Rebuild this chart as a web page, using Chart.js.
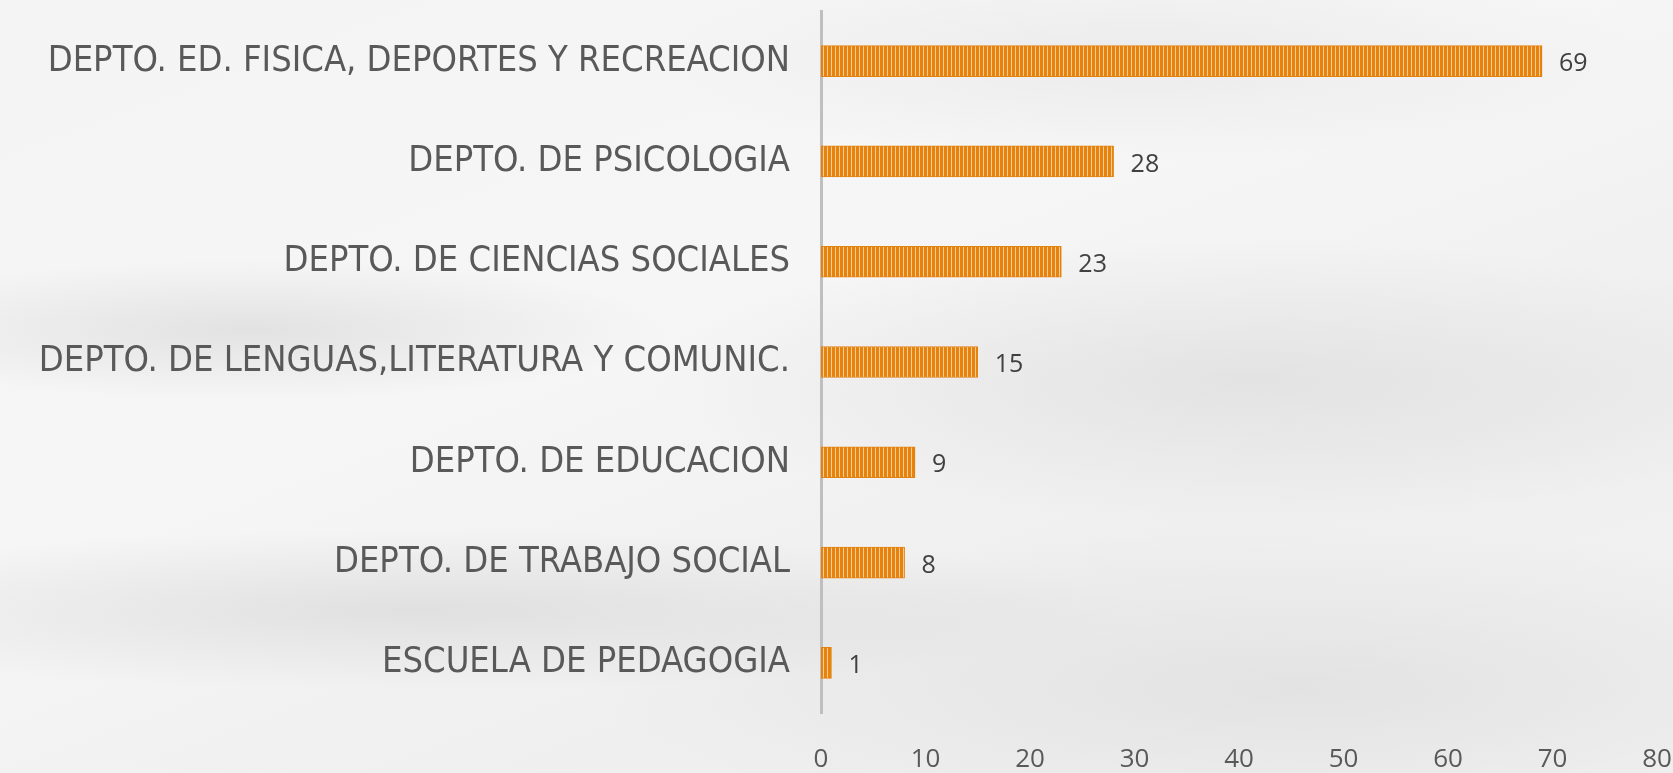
<!DOCTYPE html>
<html lang="es">
<head>
    <meta charset="UTF-8">
    <title>Departamentos</title>
    <script src="https://cdn.jsdelivr.net/npm/chart.js"></script>
    <style>
        html, body {
            margin: 0;
            padding: 0;
            width: 1673px;
            height: 773px;
            overflow: hidden;
        }
        body {
            background:
                radial-gradient(ellipse 420px 70px at 250px 330px, rgba(190,190,190,0.35), rgba(190,190,190,0)),
                radial-gradient(ellipse 700px 80px at 420px 610px, rgba(190,190,190,0.35), rgba(190,190,190,0)),
                radial-gradient(ellipse 600px 140px at 1250px 380px, rgba(205,205,205,0.4), rgba(205,205,205,0)),
                radial-gradient(ellipse 700px 160px at 1300px 690px, rgba(210,210,210,0.45), rgba(210,210,210,0)),
                radial-gradient(ellipse 500px 100px at 1150px 60px, rgba(215,215,215,0.35), rgba(215,215,215,0)),
                linear-gradient(160deg, #f4f4f4 0%, #f6f6f6 40%, #efefef 70%, #f2f2f2 100%);
        }
        #wrap {
            position: absolute;
            left: 0;
            top: 0;
            width: 1673px;
            height: 773px;
        }
    </style>
</head>
<body>
    <div id="wrap"><canvas id="deptChart"></canvas></div>

    <script>
        const categories = [
            'DEPTO. ED. FISICA, DEPORTES Y RECREACION',
            'DEPTO. DE PSICOLOGIA',
            'DEPTO. DE CIENCIAS SOCIALES',
            'DEPTO. DE LENGUAS,LITERATURA Y COMUNIC.',
            'DEPTO. DE EDUCACION',
            'DEPTO. DE TRABAJO SOCIAL',
            'ESCUELA DE PEDAGOGIA'
        ];
        const counts = [69, 28, 23, 15, 9, 8, 1];
        const xTicks = [0, 10, 20, 30, 40, 50, 60, 70, 80];

        // striped orange fill, like the original
        function stripes() {
            const c = document.createElement('canvas');
            c.width = 4;
            c.height = 4;
            const g = c.getContext('2d');
            g.fillStyle = '#e6830c';
            g.fillRect(0, 0, 4, 4);
            g.fillStyle = '#f7cc98';
            g.fillRect(3, 0, 1, 4);
            return g.createPattern(c, 'repeat');
        }

        const valueLabels = {
            id: 'valueLabels',
            afterDatasetsDraw(chart) {
                const ctx = chart.ctx;
                const meta = chart.getDatasetMeta(0);
                ctx.save();
                ctx.font = '25px "Open Sans", sans-serif';
                ctx.fillStyle = '#404040';
                ctx.textAlign = 'left';
                ctx.textBaseline = 'middle';
                meta.data.forEach((bar, i) => {
                    ctx.fillText(String(counts[i]), bar.x + 17, bar.y + 3);
                });
                ctx.restore();
            }
        };

        const ctx = document.getElementById('deptChart').getContext('2d');
        new Chart(ctx, {
            type: 'bar',
            data: {
                labels: categories,
                datasets: [{
                    data: counts,
                    backgroundColor: stripes(),
                    borderColor: '#e3820f',
                    borderWidth: 1,
                    borderSkipped: false,
                    barThickness: 31
                }]
            },
            options: {
                indexAxis: 'y',
                responsive: true,
                maintainAspectRatio: false,
                animation: false,
                layout: {
                    padding: { top: 11, right: 16, left: 0, bottom: 0 }
                },
                plugins: {
                    legend: { display: false },
                    tooltip: { enabled: false }
                },
                scales: {
                    x: {
                        min: 0,
                        max: 80,
                        afterBuildTicks: scale => {
                            scale.ticks = xTicks.map(v => ({ value: v }));
                        },
                        afterFit: scale => {
                            scale.height = 60;
                            scale.paddingLeft = 0;
                            scale.paddingRight = 0;
                        },
                        grid: { display: false, drawTicks: false },
                        border: { display: false },
                        ticks: {
                            padding: 31,
                            color: '#595959',
                            font: { family: '"Open Sans", sans-serif', size: 26 }
                        }
                    },
                    y: {
                        afterFit: scale => {
                            scale.width = 821;
                            scale.paddingTop = 0;
                            scale.paddingBottom = 0;
                        },
                        grid: { display: false, drawTicks: false },
                        border: { display: true, color: '#bfbfbf', width: 3 },
                        ticks: {
                            padding: 31,
                            color: '#595959',
                            font: { family: '"DejaVu Sans Condensed", sans-serif', size: 36 }
                        }
                    }
                }
            },
            plugins: [valueLabels]
        });
    </script>
</body>
</html>
